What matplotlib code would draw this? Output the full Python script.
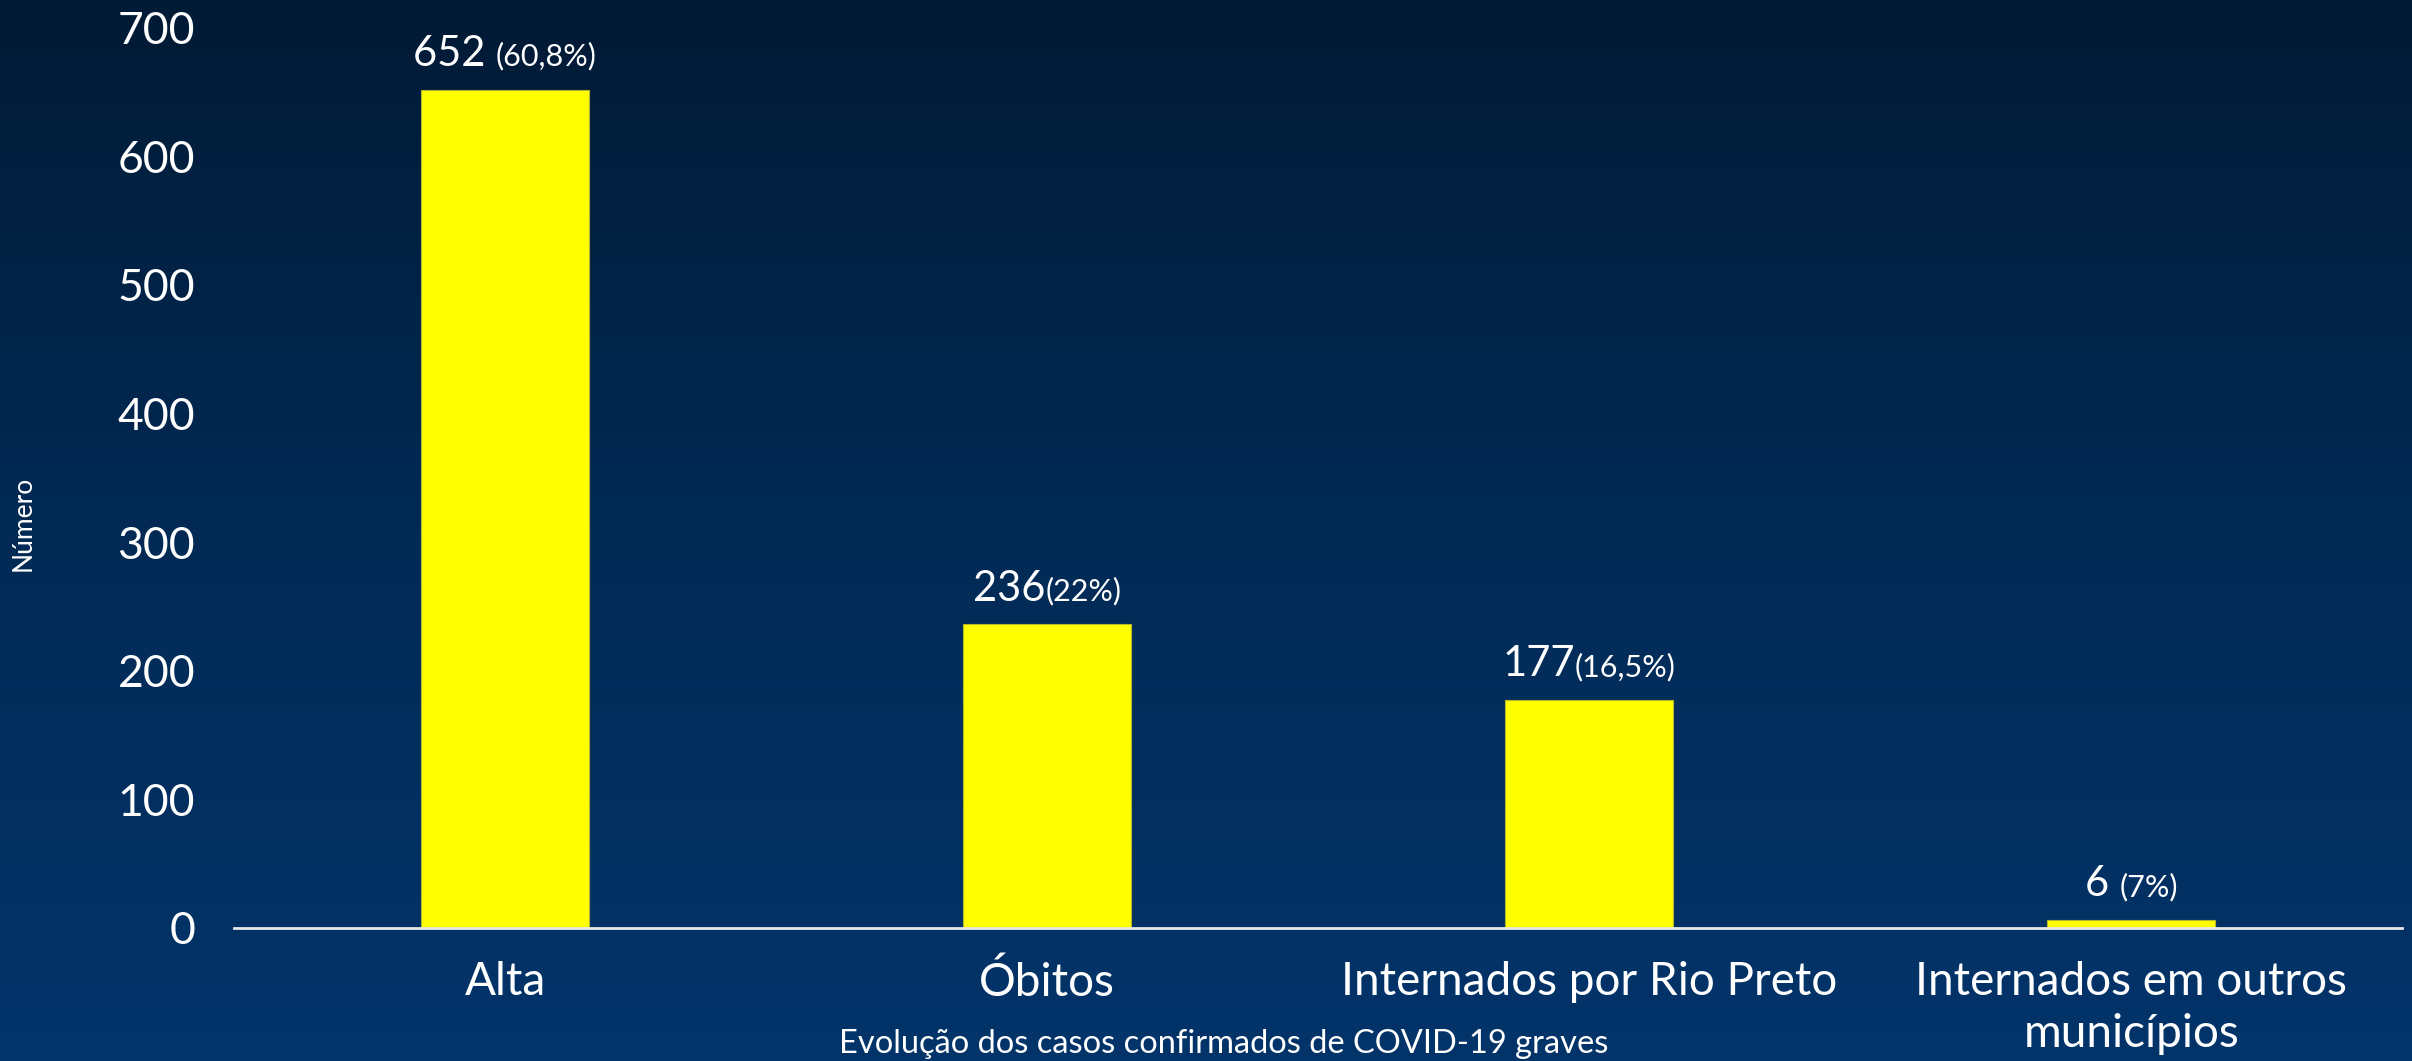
import matplotlib.pyplot as plt
import matplotlib.colors as mcolors
import numpy as np
from matplotlib.offsetbox import TextArea, HPacker, AnnotationBbox

categories = ['Alta', 'Óbitos', 'Internados por Rio Preto', 'Internados em outros\nmunicípios']
values = [652, 236, 177, 6]
count_labels = ['652 ', '236', '177', '6 ']
pct_labels = ['(60,8%)', '(22%)', '(16,5%)', '(7%)']
yticks = [0, 100, 200, 300, 400, 500, 600, 700]

plt.rcParams['font.family'] = ['Lato', 'DejaVu Sans']

fig = plt.figure(figsize=(24.12, 10.61), dpi=100)

# background gradient
bg = fig.add_axes([0, 0, 1, 1], zorder=-10)
cmap = mcolors.LinearSegmentedColormap.from_list('bg', ['#011a35', '#022a55', '#03346a'])
grad = np.linspace(0, 1, 256).reshape(-1, 1)
bg.imshow(grad, aspect='auto', cmap=cmap, extent=[0, 1, 0, 1], origin='upper')
bg.axis('off')

ax = fig.add_axes([0.097, 0.1257, 0.899, 0.848])
ax.set_facecolor('none')
x = np.arange(len(categories))
bars = ax.bar(x, values, width=0.31, color='#ffff00', edgecolor='#b5b52a', linewidth=0.8, zorder=3)

ax.set_xlim(-0.5, 3.5)
ax.set_ylim(0, 700)
ax.set_yticks(yticks)
ax.set_xticks(x)
ax.set_xticklabels(categories, fontsize=33, color='white', linespacing=1.3)
ax.tick_params(axis='y', length=0, pad=28, labelsize=32, labelcolor='white')
ax.tick_params(axis='x', length=0, pad=24)
for s in ['top', 'right', 'left']:
    ax.spines[s].set_visible(False)
ax.spines['bottom'].set_color('#e8e8e8')
ax.spines['bottom'].set_linewidth(2)
ax.spines['bottom'].set_zorder(4)

for rect, cnt, pct in zip(bars, count_labels, pct_labels):
    t1 = TextArea(cnt, textprops=dict(color='white', fontsize=30))
    t2 = TextArea(pct, textprops=dict(color='white', fontsize=22))
    box = HPacker(children=[t1, t2], align='baseline', pad=0, sep=0)
    ab = AnnotationBbox(box, (rect.get_x() + rect.get_width() / 2, rect.get_height()),
                        xybox=(0, 12), xycoords='data', boxcoords='offset points',
                        box_alignment=(0.5, 0), frameon=False, pad=0)
    ax.add_artist(ab)

fig.text(0.0095, 0.507, 'Número', rotation=90, color='white', fontsize=19, ha='center', va='center')
fig.text(0.5075, 0.016, 'Evolução dos casos confirmados de COVID-19 graves', color='white',
         fontsize=23.5, ha='center', va='center')

fig.savefig('out.png', dpi=100)
